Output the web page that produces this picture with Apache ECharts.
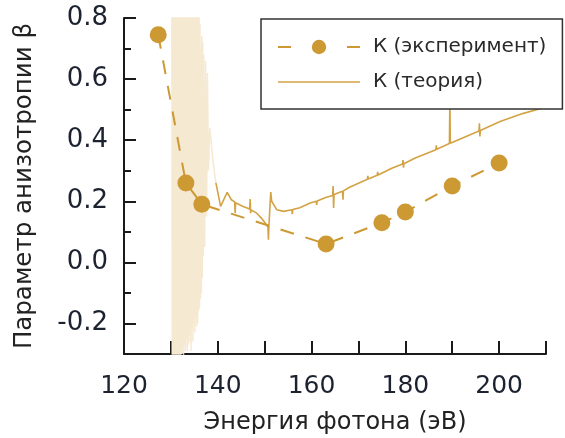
<!DOCTYPE html>
<html>
<head>
<meta charset="utf-8">
<script src="https://cdn.jsdelivr.net/npm/echarts@6/dist/echarts.min.js"></script>
<style>
  html, body { margin: 0; padding: 0; background: #fff; }
  #chart { width: 565px; height: 438px; }
</style>
</head>
<body>
<div id="chart"></div>
<script>
// Measured anisotropy parameter for the K shell, [photon energy (eV), beta]
const expData = [
  [127.3, 0.745], [133.2, 0.26], [136.6, 0.19], [163.1, 0.06],
  [175.0, 0.13], [180.0, 0.165], [190.0, 0.25], [200.0, 0.325]
];

// Calculated beta in the resonance region (strong oscillations, drawn faint)
const theoryResonance = [
  [130.2, 0.85], [130.3, -0.40], [130.4, 0.90], [130.5, -0.35], [130.6, 0.85],
  [130.7, -0.40], [130.8, 0.90], [130.9, -0.38], [131.0, 0.88], [131.1, -0.40],
  [131.2, 0.86], [131.3, -0.36], [131.4, 0.90], [131.5, -0.32], [131.6, 0.85],
  [131.7, -0.40], [131.8, 0.88], [131.9, -0.34], [132.0, 0.90], [132.1, -0.38],
  [132.2, 0.86], [132.3, -0.30], [132.4, 0.90], [132.5, -0.28], [132.6, 0.85],
  [132.7, -0.33], [132.8, 0.88], [132.9, -0.27], [133.0, 0.90], [133.1, -0.29],
  [133.2, 0.86], [133.3, -0.25], [133.4, 0.84], [133.5, -0.29], [133.6, 0.88],
  [133.7, -0.27], [133.8, 0.86], [133.9, -0.24], [134.0, 0.90], [134.1, -0.26],
  [134.2, 0.86], [134.3, -0.29], [134.4, 0.84], [134.5, -0.22], [134.6, 0.88],
  [134.7, -0.26], [134.8, 0.82], [134.9, -0.20], [135.0, 0.86], [135.1, -0.23],
  [135.2, 0.88], [135.3, -0.18], [135.4, 0.82], [135.5, -0.21], [135.6, 0.85],
  [135.7, -0.20], [135.8, 0.84], [135.9, -0.16], [136.0, 0.81], [136.1, -0.15],
  [136.2, 0.78], [136.3, -0.12], [136.4, 0.70], [136.5, -0.10], [136.6, 0.74],
  [136.7, -0.05], [136.8, 0.72], [136.9, 0.02], [137.0, 0.68], [137.2, 0.05],
  [137.4, 0.66], [137.6, 0.15], [137.8, 0.62], [138.0, 0.30],
  [138.3, 0.44], [139.0, 0.33], [139.6, 0.26]
];

// Calculated beta above the resonance region
const theoryData = [
  [139.6, 0.26], [140.6, 0.183], [142.0, 0.229], [142.9, 0.205],
  [143.6, 0.198], [143.7, 0.162], [143.8, 0.195], [145.4, 0.183],
  [146.8, 0.175], [146.9, 0.207], [147.0, 0.161], [147.1, 0.172],
  [148.3, 0.161], [149.3, 0.145], [150.4, 0.123],
  [150.7, 0.115], [150.8, 0.074], [150.9, 0.118],
  [151.2, 0.12], [151.3, 0.23], [151.5, 0.20],
  [151.9, 0.194], [152.6, 0.172], [154.0, 0.167],
  [155.8, 0.172], [155.9, 0.158], [156.0, 0.173],
  [157.5, 0.179], [159.7, 0.194],
  [161.0, 0.200], [161.1, 0.188], [161.2, 0.201],
  [163.0, 0.212],
  [164.5, 0.219], [164.6, 0.250], [164.7, 0.178], [164.8, 0.222],
  [166.6, 0.233], [166.7, 0.205], [166.8, 0.234],
  [168.0, 0.245],
  [171.9, 0.272], [172.0, 0.283], [172.1, 0.273],
  [174.0, 0.285], [174.1, 0.296], [174.2, 0.286],
  [177.0, 0.307],
  [179.4, 0.322], [179.5, 0.335], [179.6, 0.310], [179.7, 0.323],
  [182.0, 0.341],
  [186.5, 0.369], [186.6, 0.383], [186.7, 0.370],
  [189.4, 0.389], [189.5, 0.53], [189.6, 0.390],
  [195.7, 0.430], [195.8, 0.455], [195.9, 0.412], [196.0, 0.432],
  [200.2, 0.461], [205.0, 0.487], [209.8, 0.508]
];

const xTicks = [120, 140, 160, 180, 200];
const yLabelValues = [-0.2, 0, 0.2, 0.4, 0.6, 0.8];
const yMinorValues = [-0.1, 0.1, 0.3, 0.5, 0.7];

const FONT = 'DejaVu Sans';
const AXIS_COLOR = '#1a1a1a';
const LABEL_COLOR = '#1c2230';
const GOLD = '#CC9933';
const GOLD_LINE = '#D3A244';
const RESONANCE = '#F5E9D2';

const chart = echarts.init(document.getElementById('chart'), null, { renderer: 'canvas' });

chart.setOption({
  animation: false,
  backgroundColor: '#ffffff',
  grid: { left: 124, right: 19, top: 18, bottom: 84, outerBoundsMode: 'none', containLabel: false },
  legend: {
    left: 261,
    top: 19,
    orient: 'vertical',
    backgroundColor: '#ffffff',
    borderColor: '#333333',
    borderWidth: 1.5,
    borderRadius: 0,
    padding: [18, 16, 17, 16],
    itemWidth: 82,
    itemHeight: 18,
    itemGap: 15,
    textStyle: { fontFamily: FONT, fontSize: 20, color: '#2a2a2a', padding: [0, 0, 0, 8] },
    data: [
      { name: 'К (эксперимент)', lineStyle: { type: [13, 21.5] } },
      { name: 'К (теория)', icon: 'path://M0,0H82V1.6H0Z' }
    ]
  },
  xAxis: {
    type: 'value',
    min: 120,
    max: 210,
    interval: 10,
    axisLine: { onZero: false, lineStyle: { color: AXIS_COLOR, width: 2 } },
    axisTick: { inside: true, length: 13, lineStyle: { color: AXIS_COLOR, width: 2 } },
    axisLabel: {
      margin: 20,
      fontFamily: FONT,
      fontSize: 25,
      color: LABEL_COLOR,
      formatter: v => (xTicks.indexOf(v) >= 0 ? String(v) : '')
    },
    splitLine: { show: false },
    name: 'Энергия фотона (эВ)',
    nameLocation: 'middle',
    nameGap: 57,
    nameTextStyle: { fontFamily: FONT, fontSize: 24, color: '#222222' }
  },
  yAxis: [
    {
      type: 'value',
      min: -0.3,
      max: 0.8,
      axisLine: { show: true, onZero: false, lineStyle: { color: AXIS_COLOR, width: 2 } },
      axisTick: {
        inside: true, length: 12, customValues: yLabelValues,
        lineStyle: { color: AXIS_COLOR, width: 2 }
      },
      axisLabel: {
        margin: 16,
        fontFamily: FONT,
        fontSize: 26,
        color: LABEL_COLOR,
        customValues: yLabelValues,
        formatter: v => (Math.abs(v) < 1e-9 ? 0 : v).toFixed(1)
      },
      splitLine: { show: false },
      name: 'Параметр анизотропии β',
      nameLocation: 'middle',
      nameGap: 87,
      nameTextStyle: { fontFamily: FONT, fontSize: 24.5, color: '#222222' }
    },
    {
      type: 'value',
      min: -0.3,
      max: 0.8,
      position: 'left',
      axisLine: { show: false, onZero: false },
      axisTick: {
        show: true, inside: true, length: 7, customValues: yMinorValues,
        lineStyle: { color: AXIS_COLOR, width: 2 }
      },
      axisLabel: { show: false },
      splitLine: { show: false }
    }
  ],
  series: [
    {
      name: 'К (теория), резонансы',
      type: 'line',
      data: theoryResonance,
      symbol: 'none',
      clip: true,
      z: 1,
      lineStyle: { color: RESONANCE, width: 1.5 }
    },
    {
      name: 'К (теория)',
      type: 'line',
      data: theoryData,
      symbol: 'none',
      clip: true,
      z: 2,
      itemStyle: { color: GOLD_LINE },
      lineStyle: { color: GOLD_LINE, width: 1.6 }
    },
    {
      name: 'К (эксперимент)',
      type: 'line',
      data: expData,
      symbol: 'circle',
      symbolSize: 17,
      z: 3,
      itemStyle: { color: GOLD },
      lineStyle: { color: GOLD, width: 2, type: [14, 12] }
    }
  ]
});
</script>
</body>
</html>
